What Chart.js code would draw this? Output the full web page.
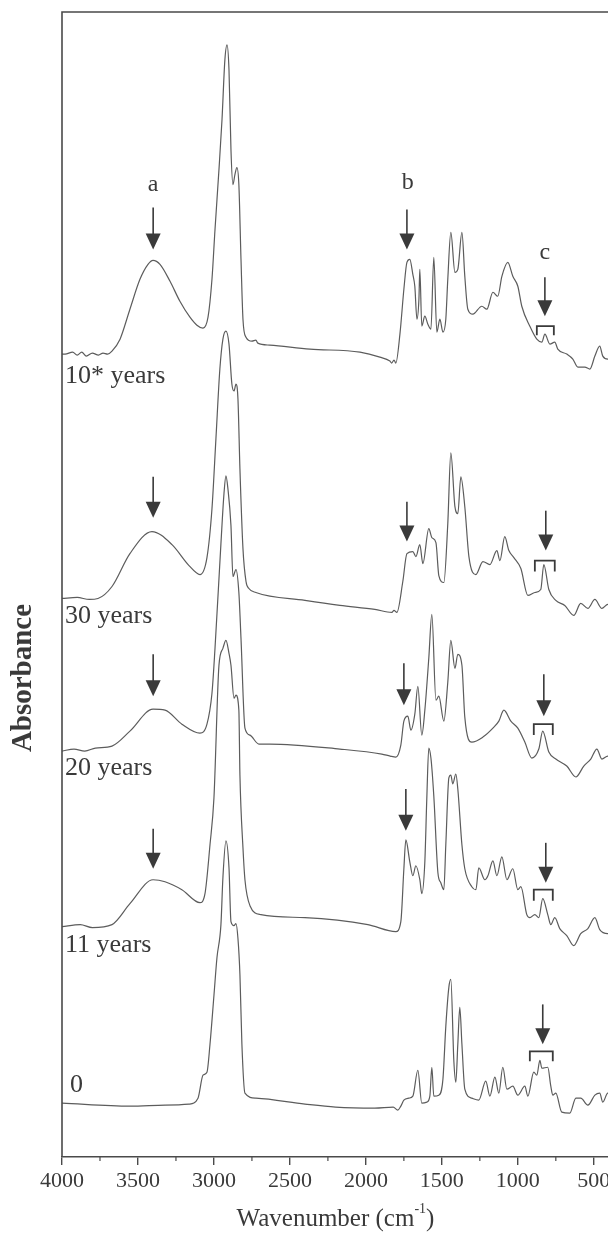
<!DOCTYPE html>
<html>
<head>
<meta charset="utf-8">
<script src="https://cdn.jsdelivr.net/npm/chart.js@4.4.1/dist/chart.umd.min.js"></script>
<style>
  html, body { margin: 0; padding: 0; background: #fff; overflow: hidden; }
  #wrap { width: 608px; height: 1241px; overflow: hidden; }
</style>
</head>
<body>
<div id="wrap"><canvas id="spectra" width="620" height="1241"></canvas></div>
<script>
// FTIR spectra, stacked (y is offset absorbance, arb. units)
const seriesNames = ['10* years', '30 years', '20 years', '11 years', '0'];
const xTicks = [4000, 3500, 3000, 2500, 2000, 1500, 1000, 500];

const wn10 = [4000, 3980, 3930, 3900, 3870, 3840, 3800, 3760, 3730, 3700, 3671, 3618, 3553, 3487, 3434, 3401, 3355, 3289, 3224, 3158, 3112, 3072, 3039, 3013, 2993, 2967, 2947, 2928, 2914, 2901, 2888, 2875, 2862, 2849, 2836, 2822, 2809, 2789, 2750, 2724, 2711, 2632, 2368, 2039, 1908, 1842, 1830, 1815, 1803, 1776, 1750, 1730, 1711, 1691, 1678, 1664, 1651, 1645, 1632, 1612, 1592, 1572, 1553, 1533, 1513, 1493, 1474, 1461, 1441, 1414, 1395, 1368, 1349, 1329, 1296, 1237, 1204, 1164, 1132, 1105, 1066, 1033, 1000, 974, 921, 875, 842, 822, 789, 757, 737, 678, 638, 605, 559, 526, 493, 461, 441, 408, 400];
const ab10 = [8.05, 8.05, 8.07, 8.04, 8.07, 8.03, 8.06, 8.04, 8.06, 8.05, 8.08, 8.20, 8.50, 8.80, 8.95, 8.99, 8.95, 8.78, 8.58, 8.42, 8.34, 8.31, 8.42, 8.80, 9.30, 9.90, 10.40, 11.00, 11.15, 10.90, 10.10, 9.75, 9.85, 9.92, 9.75, 9.00, 8.40, 8.22, 8.18, 8.19, 8.16, 8.14, 8.10, 8.07, 8.02, 7.98, 7.96, 7.99, 7.96, 8.25, 8.70, 8.97, 9.00, 8.85, 8.73, 8.40, 8.60, 8.90, 8.33, 8.43, 8.35, 8.30, 9.02, 8.27, 8.40, 8.27, 8.40, 8.80, 9.27, 8.87, 8.90, 9.27, 8.83, 8.50, 8.45, 8.53, 8.50, 8.67, 8.63, 8.83, 8.97, 8.83, 8.73, 8.53, 8.33, 8.20, 8.17, 8.25, 8.15, 8.17, 8.10, 8.05, 8.00, 7.92, 7.92, 7.90, 8.03, 8.13, 8.03, 8.00, 8.00];

const wn30 = [4000, 3900, 3820, 3763, 3671, 3553, 3408, 3276, 3164, 3092, 3046, 3013, 2987, 2961, 2941, 2921, 2901, 2882, 2868, 2855, 2842, 2829, 2809, 2789, 2770, 2724, 2401, 2171, 1941, 1829, 1815, 1796, 1757, 1730, 1691, 1671, 1645, 1625, 1586, 1566, 1539, 1520, 1487, 1461, 1441, 1414, 1395, 1375, 1349, 1322, 1276, 1230, 1184, 1138, 1118, 1086, 1059, 1026, 980, 934, 888, 849, 829, 796, 750, 691, 632, 586, 539, 493, 447, 408, 400];
const ab30 = [5.60, 5.61, 5.59, 5.60, 5.72, 6.05, 6.27, 6.14, 5.93, 5.84, 6.01, 6.50, 7.20, 7.90, 8.20, 8.28, 8.15, 7.75, 7.68, 7.75, 7.60, 6.90, 6.10, 5.77, 5.70, 5.66, 5.58, 5.53, 5.49, 5.46, 5.48, 5.46, 5.77, 6.05, 6.07, 6.02, 6.14, 5.95, 6.30, 6.21, 6.16, 5.83, 5.76, 6.35, 7.06, 6.52, 6.45, 6.82, 6.52, 6.02, 5.84, 5.97, 5.94, 6.08, 5.98, 6.22, 6.08, 6.01, 5.90, 5.63, 5.66, 5.69, 5.94, 5.69, 5.58, 5.53, 5.43, 5.55, 5.50, 5.59, 5.50, 5.54, 5.54];

const wn20 = [4000, 3921, 3850, 3780, 3671, 3553, 3401, 3322, 3211, 3092, 3046, 3013, 2993, 2954, 2934, 2921, 2908, 2888, 2875, 2855, 2836, 2822, 2796, 2763, 2704, 2632, 2171, 1895, 1840, 1803, 1770, 1750, 1724, 1704, 1678, 1658, 1632, 1612, 1586, 1566, 1539, 1520, 1487, 1461, 1441, 1414, 1395, 1368, 1349, 1303, 1230, 1164, 1125, 1092, 1046, 1000, 954, 908, 862, 836, 796, 750, 678, 618, 566, 520, 480, 447, 408, 400];
const ab20 = [4.07, 4.09, 4.07, 4.10, 4.12, 4.27, 4.49, 4.48, 4.34, 4.25, 4.34, 4.65, 5.10, 6.15, 6.65, 6.83, 6.70, 6.33, 5.82, 5.89, 5.66, 5.20, 4.30, 4.23, 4.14, 4.14, 4.09, 4.04, 4.02, 4.01, 4.13, 4.37, 4.42, 4.28, 4.44, 4.72, 4.23, 4.48, 5.00, 5.44, 4.58, 4.62, 4.37, 4.76, 5.18, 4.90, 5.04, 4.93, 4.41, 4.16, 4.21, 4.30, 4.37, 4.48, 4.37, 4.30, 4.16, 4.00, 4.09, 4.27, 4.06, 3.99, 3.92, 3.81, 3.92, 3.99, 4.09, 3.99, 4.02, 4.02];

const wn11 = [4000, 3880, 3800, 3671, 3553, 3401, 3322, 3211, 3092, 3059, 3026, 3000, 2967, 2941, 2921, 2901, 2888, 2868, 2855, 2836, 2829, 2809, 2796, 2763, 2691, 2401, 1987, 1803, 1770, 1750, 1737, 1711, 1691, 1671, 1645, 1632, 1612, 1599, 1586, 1572, 1553, 1526, 1507, 1487, 1474, 1454, 1441, 1428, 1408, 1395, 1368, 1349, 1303, 1276, 1257, 1217, 1197, 1164, 1138, 1105, 1072, 1033, 1000, 980, 941, 921, 888, 862, 836, 803, 783, 757, 724, 678, 632, 586, 539, 493, 461, 408, 400];
const ab11 = [2.31, 2.33, 2.30, 2.33, 2.54, 2.78, 2.76, 2.68, 2.55, 2.64, 3.13, 3.60, 4.93, 5.10, 5.18, 5.05, 4.93, 4.60, 4.63, 4.48, 3.83, 3.10, 2.78, 2.52, 2.43, 2.40, 2.33, 2.26, 2.36, 2.89, 3.18, 2.96, 2.82, 2.92, 2.78, 2.64, 2.96, 3.60, 4.10, 4.00, 3.62, 2.85, 2.75, 2.68, 3.13, 3.80, 3.83, 3.74, 3.84, 3.69, 3.13, 2.89, 2.71, 2.68, 2.90, 2.78, 2.82, 2.97, 2.82, 3.01, 2.78, 2.89, 2.68, 2.71, 2.43, 2.40, 2.43, 2.40, 2.59, 2.43, 2.33, 2.40, 2.29, 2.22, 2.12, 2.24, 2.29, 2.40, 2.28, 2.24, 2.24];

const wn0 = [4000, 3553, 3322, 3164, 3105, 3072, 3046, 3026, 3000, 2980, 2954, 2941, 2921, 2901, 2888, 2868, 2855, 2842, 2829, 2816, 2796, 2724, 2401, 2200, 1941, 1820, 1790, 1770, 1750, 1717, 1691, 1658, 1632, 1599, 1579, 1566, 1553, 1520, 1493, 1474, 1454, 1441, 1421, 1408, 1395, 1382, 1368, 1349, 1303, 1257, 1211, 1184, 1151, 1125, 1099, 1072, 1033, 1000, 954, 934, 895, 875, 855, 842, 803, 783, 770, 750, 711, 658, 618, 586, 539, 493, 461, 441, 408, 400];
const ab0 = [0.54, 0.51, 0.52, 0.53, 0.59, 0.82, 0.85, 1.13, 1.62, 2.00, 2.33, 2.80, 3.17, 2.90, 2.36, 2.32, 2.34, 2.19, 1.83, 1.13, 0.64, 0.59, 0.53, 0.50, 0.49, 0.50, 0.47, 0.51, 0.57, 0.59, 0.61, 0.87, 0.54, 0.55, 0.61, 0.90, 0.61, 0.62, 0.78, 1.31, 1.70, 1.78, 0.96, 0.75, 1.13, 1.50, 1.13, 0.68, 0.59, 0.57, 0.76, 0.61, 0.80, 0.64, 0.90, 0.68, 0.71, 0.62, 0.71, 0.61, 0.85, 0.82, 0.97, 0.89, 0.90, 0.71, 0.62, 0.64, 0.45, 0.44, 0.59, 0.59, 0.52, 0.62, 0.64, 0.55, 0.64, 0.64];

const waveNumbers = [wn10, wn30, wn20, wn11, wn0];
const absorbances = [ab10, ab30, ab20, ab11, ab0];

// annotations, in data units (wavenumber, absorbance)
const arrows = [
  { wn: 3400, from: 9.52, to: 9.10 }, { wn: 1730, from: 9.50, to: 9.10 }, { wn: 822, from: 8.82, to: 8.43 },
  { wn: 3400, from: 6.82, to: 6.41 }, { wn: 1730, from: 6.57, to: 6.17 }, { wn: 816, from: 6.48, to: 6.08 },
  { wn: 3400, from: 5.04, to: 4.62 }, { wn: 1750, from: 4.95, to: 4.53 }, { wn: 829, from: 4.84, to: 4.42 },
  { wn: 3400, from: 3.29, to: 2.89 }, { wn: 1737, from: 3.69, to: 3.27 }, { wn: 816, from: 3.15, to: 2.75 },
  { wn: 836, from: 1.53, to: 1.13 }
];
const brackets = [
  { from: 875, to: 763, top: 8.33, foot: 8.24 },
  { from: 888, to: 757, top: 5.98, foot: 5.87 },
  { from: 895, to: 770, top: 4.34, foot: 4.23 },
  { from: 895, to: 770, top: 2.68, foot: 2.57 },
  { from: 921, to: 770, top: 1.06, foot: 0.96 }
];
const letters = [
  { text: 'a', wn: 3400, y: 9.75 },
  { text: 'b', wn: 1724, y: 9.77 },
  { text: 'c', wn: 822, y: 9.07 }
];
const nameSpots = [
  { wn: 3980, y: 7.83 }, { wn: 3980, y: 5.42 }, { wn: 3980, y: 3.90 },
  { wn: 3980, y: 2.12 }, { wn: 3947, y: 0.72 }
];
const minorTicks = [3750, 3250, 2750, 2250, 1750, 1250, 750];

const SERIF = '"Liberation Serif", "Times New Roman", serif';
const INK = '#3a3a3a';

const extras = {
  id: 'extras',
  afterDraw(chart) {
    const { ctx, chartArea: ca, scales: { x, y } } = chart;
    ctx.save();
    ctx.strokeStyle = '#4a4a4a';
    ctx.lineWidth = 1.6;
    // frame (left, top, right)
    ctx.beginPath();
    ctx.moveTo(ca.left, ca.bottom);
    ctx.lineTo(ca.left, ca.top);
    ctx.lineTo(ca.right, ca.top);
    ctx.lineTo(ca.right, ca.bottom);
    ctx.stroke();
    // minor ticks
    ctx.lineWidth = 1.2;
    minorTicks.forEach(v => {
      const px = x.getPixelForValue(v);
      ctx.beginPath();
      ctx.moveTo(px, ca.bottom);
      ctx.lineTo(px, ca.bottom + 4);
      ctx.stroke();
    });
    // arrows
    ctx.strokeStyle = INK;
    ctx.fillStyle = INK;
    arrows.forEach(a => {
      const px = x.getPixelForValue(a.wn);
      const y0 = y.getPixelForValue(a.from);
      const y1 = y.getPixelForValue(a.to);
      ctx.lineWidth = 1.6;
      ctx.beginPath();
      ctx.moveTo(px, y0);
      ctx.lineTo(px, y1 - 14);
      ctx.stroke();
      ctx.beginPath();
      ctx.moveTo(px - 7.5, y1 - 16);
      ctx.lineTo(px + 7.5, y1 - 16);
      ctx.lineTo(px, y1);
      ctx.closePath();
      ctx.fill();
    });
    // brackets
    ctx.lineWidth = 1.8;
    brackets.forEach(b => {
      const x0 = x.getPixelForValue(b.from), x1 = x.getPixelForValue(b.to);
      const yt = y.getPixelForValue(b.top), yf = y.getPixelForValue(b.foot);
      ctx.beginPath();
      ctx.moveTo(x0, yf);
      ctx.lineTo(x0, yt);
      ctx.lineTo(x1, yt);
      ctx.lineTo(x1, yf);
      ctx.stroke();
    });
    // peak letters
    ctx.font = '24px ' + SERIF;
    ctx.textAlign = 'center';
    ctx.textBaseline = 'middle';
    letters.forEach(l => ctx.fillText(l.text, x.getPixelForValue(l.wn), y.getPixelForValue(l.y)));
    // series names
    ctx.font = '26px ' + SERIF;
    ctx.textAlign = 'left';
    seriesNames.forEach((n, i) => {
      ctx.fillText(n, x.getPixelForValue(nameSpots[i].wn), y.getPixelForValue(nameSpots[i].y));
    });
    // x title with superscript
    const t1 = 'Wavenumber (cm', t2 = '-1', t3 = ')';
    ctx.font = '25px ' + SERIF;
    const w1 = ctx.measureText(t1).width, w3 = ctx.measureText(t3).width;
    ctx.font = '14px ' + SERIF;
    const w2 = ctx.measureText(t2).width;
    const cx = x.getPixelForValue(2200);
    const sx = cx - (w1 + w2 + w3) / 2;
    const ty = ca.bottom + 62;
    ctx.font = '25px ' + SERIF;
    ctx.fillText(t1, sx, ty);
    ctx.font = '14px ' + SERIF;
    ctx.fillText(t2, sx + w1, ty - 10);
    ctx.font = '25px ' + SERIF;
    ctx.fillText(t3, sx + w1 + w2, ty);
    // y title
    ctx.translate(24, 678);
    ctx.rotate(-Math.PI / 2);
    ctx.font = 'bold 29px ' + SERIF;
    ctx.textAlign = 'center';
    ctx.fillText('Absorbance', 0, 0);
    ctx.restore();
  }
};

const datasets = seriesNames.map((name, i) => ({
  label: name,
  data: waveNumbers[i].map((w, j) => ({ x: w, y: absorbances[i][j] })),
  borderColor: '#5c5c5c',
  borderWidth: 1.2,
  pointRadius: 0,
  fill: false,
  cubicInterpolationMode: 'monotone'
}));

new Chart(document.getElementById('spectra'), {
  type: 'line',
  data: { datasets },
  options: {
    responsive: false,
    animation: false,
    events: [],
    layout: { padding: { left: 62, right: 11, top: 12, bottom: 43.6 } },
    plugins: { legend: { display: false }, tooltip: { enabled: false } },
    scales: {
      x: {
        type: 'linear',
        reverse: true,
        min: 400,
        max: 4000,
        afterBuildTicks: (scale) => {
          scale.ticks = xTicks.map(v => ({ value: v }));
        },
        ticks: {
          color: INK,
          font: { family: SERIF, size: 22 },
          padding: 3,
          maxRotation: 0,
          autoSkip: false,
          callback: (v) => String(v)
        },
        grid: { drawOnChartArea: false, drawTicks: true, tickLength: 8, color: '#4a4a4a', lineWidth: 1.4 },
        border: { display: true, color: '#4a4a4a', width: 1.6 }
      },
      y: {
        display: false,
        min: 0,
        max: 11.48
      }
    }
  },
  plugins: [extras]
});
</script>
</body>
</html>
